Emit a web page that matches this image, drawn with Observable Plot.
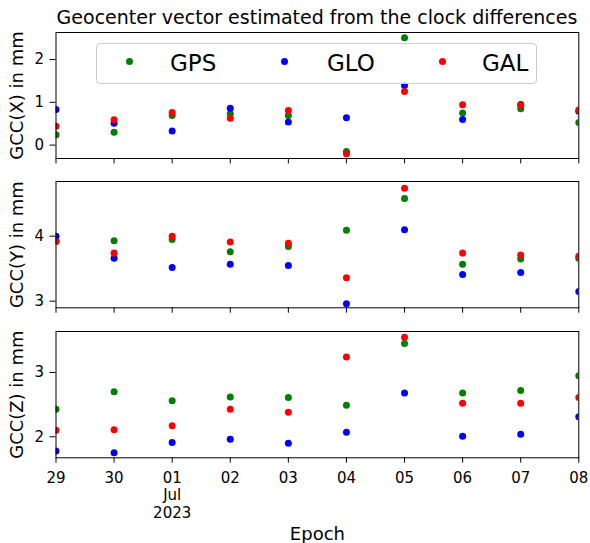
<!DOCTYPE html>
<html>
<head>
<meta charset="utf-8">
<script src="https://cdn.jsdelivr.net/npm/d3@7"></script>
<script src="https://cdn.jsdelivr.net/npm/@observablehq/plot@0.6"></script>
<style>
  html, body { margin: 0; padding: 0; background: #fff; overflow: hidden; }
  #wrap { position: relative; width: 590px; height: 543px; font-family: "DejaVu Sans", sans-serif; color: #000; }
  .panel { position: absolute; left: 0; }
  .panel svg { overflow: visible; }
  #title { position: absolute; top: 4px; left: 55.5px; width: 523px; text-align: center; font-size: 19px; line-height: 26px; white-space: nowrap; }
  #legend { position: absolute; left: 96px; top: 42.5px; width: 439px; height: 39px; border: 1px solid #cccccc; border-radius: 4px; background: rgba(255,255,255,0.8); z-index: 5; }
  .lm { position: absolute; width: 7px; height: 7px; border-radius: 50%; top: 14.8px; }
  .lt { position: absolute; top: 4px; font-size: 23px; line-height: 30px; }
  g[aria-label="y-axis label"] text, g[aria-label="x-axis label"] text { font-size: 18px; }
</style>
</head>
<body>
<div id="wrap">
  <div id="title">Geocenter vector estimated from the clock differences</div>
  <div id="legend"></div>
</div>
<script>
// ---- data ----
const epochs = ["2023-06-29","2023-06-30","2023-07-01","2023-07-02","2023-07-03","2023-07-04","2023-07-05","2023-07-06","2023-07-07","2023-07-08"];
const xTickLabels = ["29","30","01\nJul\n2023","02","03","04","05","06","07","08"];
const systems = ["GPS","GLO","GAL"];
const systemColors = ["green","blue","red"];

const gpsX = [0.24,0.30,0.69,0.73,0.69,-0.15,2.51,0.75,0.85,0.53];
const gloX = [0.83,0.51,0.33,0.86,0.54,0.64,1.39,0.60,0.95,0.79];
const galX = [0.44,0.59,0.76,0.63,0.81,-0.20,1.25,0.94,0.93,0.82];

const gpsY = [3.93,3.93,3.95,3.76,3.84,4.09,4.58,3.57,3.65,3.66];
const gloY = [4.00,3.66,3.52,3.57,3.55,2.96,4.10,3.41,3.44,3.15];
const galY = [3.92,3.74,4.00,3.91,3.89,3.36,4.74,3.74,3.71,3.69];

const gpsZ = [2.43,2.70,2.56,2.62,2.61,2.49,3.45,2.68,2.72,2.95];
const gloZ = [1.78,1.75,1.91,1.96,1.90,2.07,2.68,2.01,2.04,2.31];
const galZ = [2.10,2.11,2.17,2.43,2.38,3.24,3.55,2.52,2.52,2.61];

const panelLabels = ["GCC(X) in mm","GCC(Y) in mm","GCC(Z) in mm"];
const yTicksX = [0,1,2];
const yTicksY = [3,4];
const yTicksZ = [2,3];

// ---- build ----
const dates = epochs.map(s => new Date(s + "T00:00:00Z"));
const labelByDate = new Map(dates.map((d, i) => [+d, xTickLabels[i]]));

function rowsFor(series) {
  const rows = [];
  series.forEach((vals, k) => vals.forEach((v, i) => rows.push({date: dates[i], value: v, system: systems[k]})));
  return rows;
}

function panel(cfg) {
  const rows = rowsFor(cfg.series);
  return Plot.plot({
    width: 590,
    height: cfg.mt + cfg.inner + cfg.mb,
    marginLeft: 55.5,
    marginRight: 11.7,
    marginTop: cfg.mt,
    marginBottom: cfg.mb,
    style: {fontFamily: "DejaVu Sans, sans-serif", fontSize: "15px", color: "#000", background: "transparent"},
    x: {type: "utc", domain: [dates[0], dates[dates.length - 1]]},
    y: {domain: cfg.yDomain},
    color: {domain: systems, range: systemColors},
    marks: [
      Plot.axisY({ticks: cfg.yTicks, tickSize: 6, tickPadding: 6, tickFormat: d => String(d),
                  label: cfg.label, labelAnchor: "center", labelOffset: 46, labelArrow: "none"}),
      Plot.axisX({ticks: dates, tickSize: 5.4, tickPadding: 7, lineHeight: 1.17,
                  tickFormat: cfg.showX ? (d => labelByDate.get(+d)) : (() => ""),
                  label: cfg.showX ? "Epoch" : null, labelAnchor: "center", labelOffset: 82, labelArrow: "none"}),
      Plot.dot(rows, {x: "date", y: "value", fill: "system", r: 3.5, clip: true}),
      Plot.frame({stroke: "#000", strokeWidth: 1})
    ]
  });
}

const wrap = document.getElementById("wrap");
const cfgs = [
  {series: [gpsX, gloX, galX], label: panelLabels[0], yDomain: [-0.313, 2.63], yTicks: yTicksX, top: 29.7, mt: 2, inner: 126, mb: 10, showX: false},
  {series: [gpsY, gloY, galY], label: panelLabels[1], yDomain: [2.898, 4.842], yTicks: yTicksY, top: 179, mt: 2, inner: 126.3, mb: 10, showX: false},
  {series: [gpsZ, gloZ, galZ], label: panelLabels[2], yDomain: [1.673, 3.638], yTicks: yTicksZ, top: 329, mt: 2, inner: 126.3, mb: 90, showX: true}
];
cfgs.forEach(cfg => {
  const div = document.createElement("div");
  div.className = "panel";
  div.style.top = cfg.top + "px";
  div.appendChild(panel(cfg));
  wrap.insertBefore(div, document.getElementById("legend"));
});

// ---- legend ----
const legend = document.getElementById("legend");
const markerLeft = [28.5, 183.5, 341.5];
const textLeft = [73, 230, 385];
systems.forEach((s, k) => {
  const m = document.createElement("div");
  m.className = "lm";
  m.style.left = markerLeft[k] + "px";
  m.style.background = systemColors[k];
  legend.appendChild(m);
  const t = document.createElement("div");
  t.className = "lt";
  t.style.left = textLeft[k] + "px";
  t.textContent = s;
  legend.appendChild(t);
});
</script>
</body>
</html>
